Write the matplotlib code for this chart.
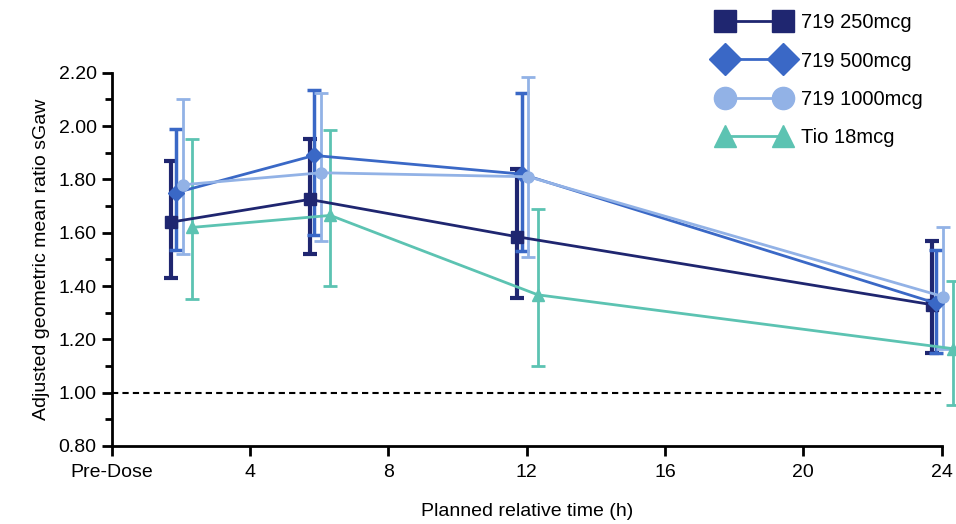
import numpy as np
import matplotlib
matplotlib.use('Agg')
import matplotlib.pyplot as plt
from matplotlib.ticker import MultipleLocator

plt.rcParams['font.family'] = ['Liberation Sans', 'DejaVu Sans']
plt.rcParams['font.size'] = 14

# Nominal planned times (h)
times = [2, 6, 12, 24]

# Adjusted geometric mean ratio sGaw with CI bounds
labels = ['719 250mcg', '719 500mcg', '719 1000mcg', 'Tio 18mcg']
y_250 = [1.64, 1.725, 1.585, 1.33]
lo_250 = [1.43, 1.52, 1.355, 1.15]
hi_250 = [1.87, 1.95, 1.84, 1.57]

y_500 = [1.75, 1.89, 1.82, 1.335]
lo_500 = [1.535, 1.59, 1.53, 1.15]
hi_500 = [1.99, 2.135, 2.125, 1.535]

y_1000 = [1.78, 1.825, 1.81, 1.36]
lo_1000 = [1.52, 1.57, 1.51, 1.165]
hi_1000 = [2.10, 2.125, 2.185, 1.62]

y_tio = [1.62, 1.665, 1.367, 1.165]
lo_tio = [1.35, 1.40, 1.10, 0.955]
hi_tio = [1.95, 1.985, 1.69, 1.42]

series = [
    (y_250, lo_250, hi_250),
    (y_500, lo_500, hi_500),
    (y_1000, lo_1000, hi_1000),
    (y_tio, lo_tio, hi_tio),
]

# styling
colors = ['#1f2670', '#3a68c6', '#92b2e6', '#5cc3b2']
markers = ['s', 'D', 'o', '^']
offsets = [-0.28, -0.15, 0.05, 0.32]   # horizontal dodge
elw = [3.0, 2.5, 2.0, 2.0]

fig = plt.figure(figsize=(9.56, 5.24), dpi=100)
ax = fig.add_axes([0.117, 0.149, 0.868, 0.712])

ax.axhline(1.0, color='black', linestyle=(0, (3, 2)), linewidth=1.5, zorder=1)

handles = []
for (yv, lo, hi), c, m, off, lw, lab in zip(series, colors, markers, offsets, elw, labels):
    x = np.array(times) + off
    yv = np.array(yv)
    yerr = [yv - np.array(lo), np.array(hi) - yv]
    ax.errorbar(x, yv, yerr=yerr, fmt='none', ecolor=c, elinewidth=lw,
                capsize=5, capthick=lw, zorder=2, clip_on=False)
    ln, = ax.plot(x, yv, color=c, linewidth=2, marker=m, markersize=8,
                  zorder=3, clip_on=False, label=lab)
    handles.append(ln)

ax.set_xlim(0, 24)
ax.set_ylim(0.8, 2.2)
ax.set_xticks([0, 4, 8, 12, 16, 20, 24])
ax.set_xticklabels(['Pre-Dose', '4', '8', '12', '16', '20', '24'])
ax.set_yticks(np.arange(0.8, 2.21, 0.2))
ax.set_yticklabels([f'{v:.2f}' for v in np.arange(0.8, 2.21, 0.2)])
ax.yaxis.set_minor_locator(MultipleLocator(0.1))

for s in ['top', 'right']:
    ax.spines[s].set_visible(False)
for s in ['left', 'bottom']:
    ax.spines[s].set_linewidth(2)
ax.tick_params(which='major', length=7, width=2, direction='out', pad=4)
ax.tick_params(which='minor', length=5, width=2)
ax.tick_params(axis='x', pad=6)

ax.set_xlabel('Planned relative time (h)', labelpad=16)
ax.set_ylabel('Adjusted geometric mean ratio sGaw', labelpad=6)

fig.legend(handles=handles, loc='upper left', bbox_to_anchor=(0.733, 1.009),
           frameon=False, numpoints=2, markerscale=2.0, handlelength=3.5,
           handletextpad=0.6, labelspacing=0.95, fontsize=14.5)

fig.savefig('out.png', dpi=100, facecolor='white')
